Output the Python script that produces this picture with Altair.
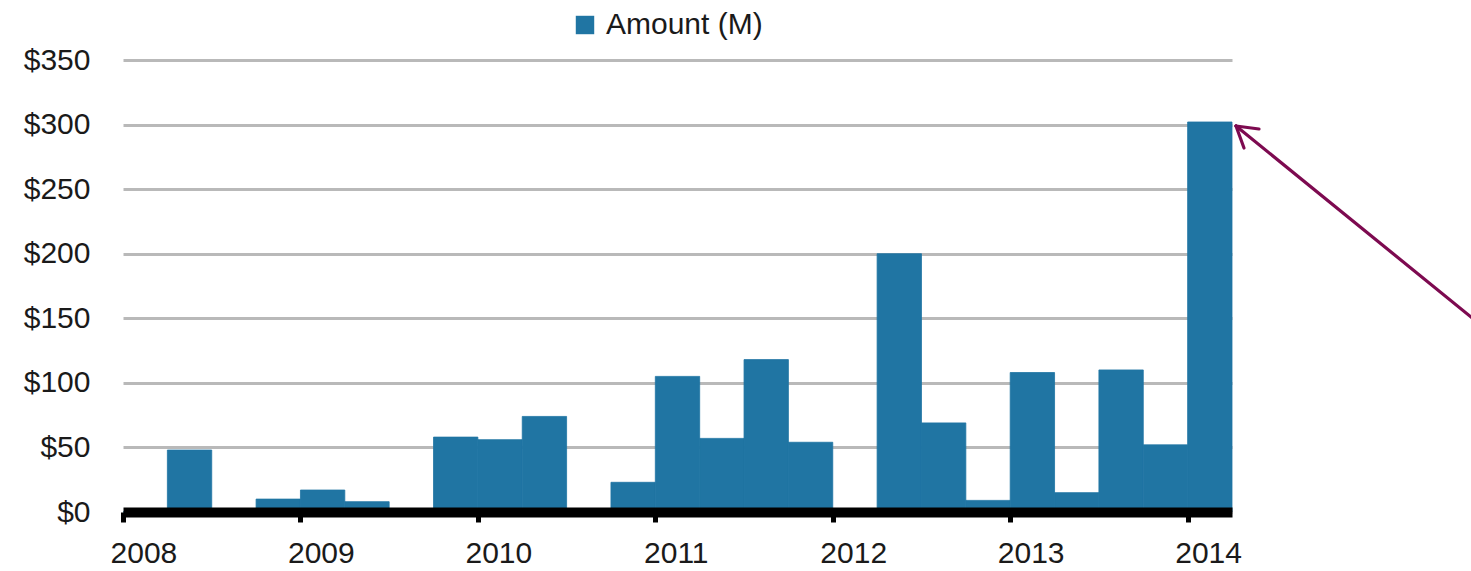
import altair as alt
import pandas as pd

# Quarterly funding amounts, in millions of dollars
years = [2008, 2008, 2008, 2008,
         2009, 2009, 2009, 2009,
         2010, 2010, 2010, 2010,
         2011, 2011, 2011, 2011,
         2012, 2012, 2012, 2012,
         2013, 2013, 2013, 2013,
         2014]
quarters = [1, 2, 3, 4,
            1, 2, 3, 4,
            1, 2, 3, 4,
            1, 2, 3, 4,
            1, 2, 3, 4,
            1, 2, 3, 4,
            1]
amounts = [0, 48, 0, 10,
           17, 8, 0, 58,
           56, 74, 0, 23,
           105, 57, 118, 54,
           0, 200, 69, 9,
           108, 15, 110, 52,
           302]

year_ticks = [2008, 2009, 2010, 2011, 2012, 2013, 2014]
amount_ticks = [0, 50, 100, 150, 200, 250, 300, 350]
series_name = "Amount (M)"

BAR = "#2075a3"
ARROW = "#7d0a50"
FONT = "Liberation Sans"
FS = 30
TEXT = "#1a1a1a"

df = pd.DataFrame({"year": years, "quarter": quarters, "amount": amounts})
df["series"] = series_name
ticks_df = pd.DataFrame({"year": year_ticks})

W, H = 1109, 452
x_scale = alt.Scale(domain=[2008, 2014.25], nice=False, zero=False)

# Adjacent quarters touch; a thin stroke in the fill colour closes the seams
bars = alt.Chart(df).transform_calculate(
    start="datum.year + (datum.quarter - 1) / 4",
    end="datum.year + datum.quarter / 4",
).mark_bar(cornerRadius=0, stroke=BAR, strokeWidth=0.8).encode(
    x=alt.X(
        "start:Q",
        scale=x_scale,
        axis=alt.Axis(
            values=year_ticks, title=None, grid=False, labels=False,
            domainColor="black", domainWidth=10,
            tickColor="black", tickWidth=5, tickSize=10, zindex=1,
        ),
    ),
    x2="end:Q",
    y=alt.Y(
        "amount:Q",
        scale=alt.Scale(domain=[0, 350], nice=False),
        axis=alt.Axis(
            values=amount_ticks, labelExpr="'$' + datum.value", title=None,
            domain=False, ticks=False,
            gridColor="#b9b9b9", gridWidth=3,
            labelFont=FONT, labelFontSize=FS, labelColor=TEXT,
            labelPadding=33,
        ),
    ),
    y2=alt.datum(0),
    color=alt.Color(
        "series:N",
        scale=alt.Scale(domain=[series_name], range=[BAR]),
        legend=alt.Legend(
            title=None, orient="none", legendX=447, legendY=-50,
            symbolType="square", symbolSize=340, symbolStrokeWidth=0,
            labelFont=FONT, labelFontSize=FS, labelColor=TEXT,
            labelOffset=6, padding=0,
        ),
    ),
)

# Year labels, set a little to the right of their tick marks
year_labels = alt.Chart(ticks_df).transform_calculate(
    lx="datum.year + 0.118"
).mark_text(
    font=FONT, fontSize=FS, color=TEXT, align="center", baseline="alphabetic",
    clip=False,
).encode(
    x=alt.X("lx:Q", scale=x_scale),
    y=alt.value(H + 51),
    text=alt.Text("year:Q", format="d"),
)

# Callout arrow pointing at the 2014 bar
blank = alt.Data(values=[{}])


def segment(x1, y1, x2, y2):
    return alt.Chart(blank).mark_rule(
        color=ARROW, strokeWidth=3.2, strokeCap="round", clip=False
    ).encode(
        x=alt.value(x1), y=alt.value(y1), x2=alt.value(x2), y2=alt.value(y2)
    )


tip_x, tip_y = 1113, 66
arrow = (
    segment(tip_x, tip_y, 1380, 283)
    + segment(tip_x, tip_y, tip_x + 23, tip_y + 3)
    + segment(tip_x, tip_y, tip_x + 8, tip_y + 22)
)

chart = alt.layer(bars, year_labels, arrow).properties(
    width=W, height=H,
    autosize=alt.AutoSizeParams(type="none"),
    padding={"left": 123, "top": 60, "right": 239, "bottom": 59},
    background="white",
).configure_view(stroke=None)

chart.save("out.html", embed_options={"renderer": "svg", "actions": False})
